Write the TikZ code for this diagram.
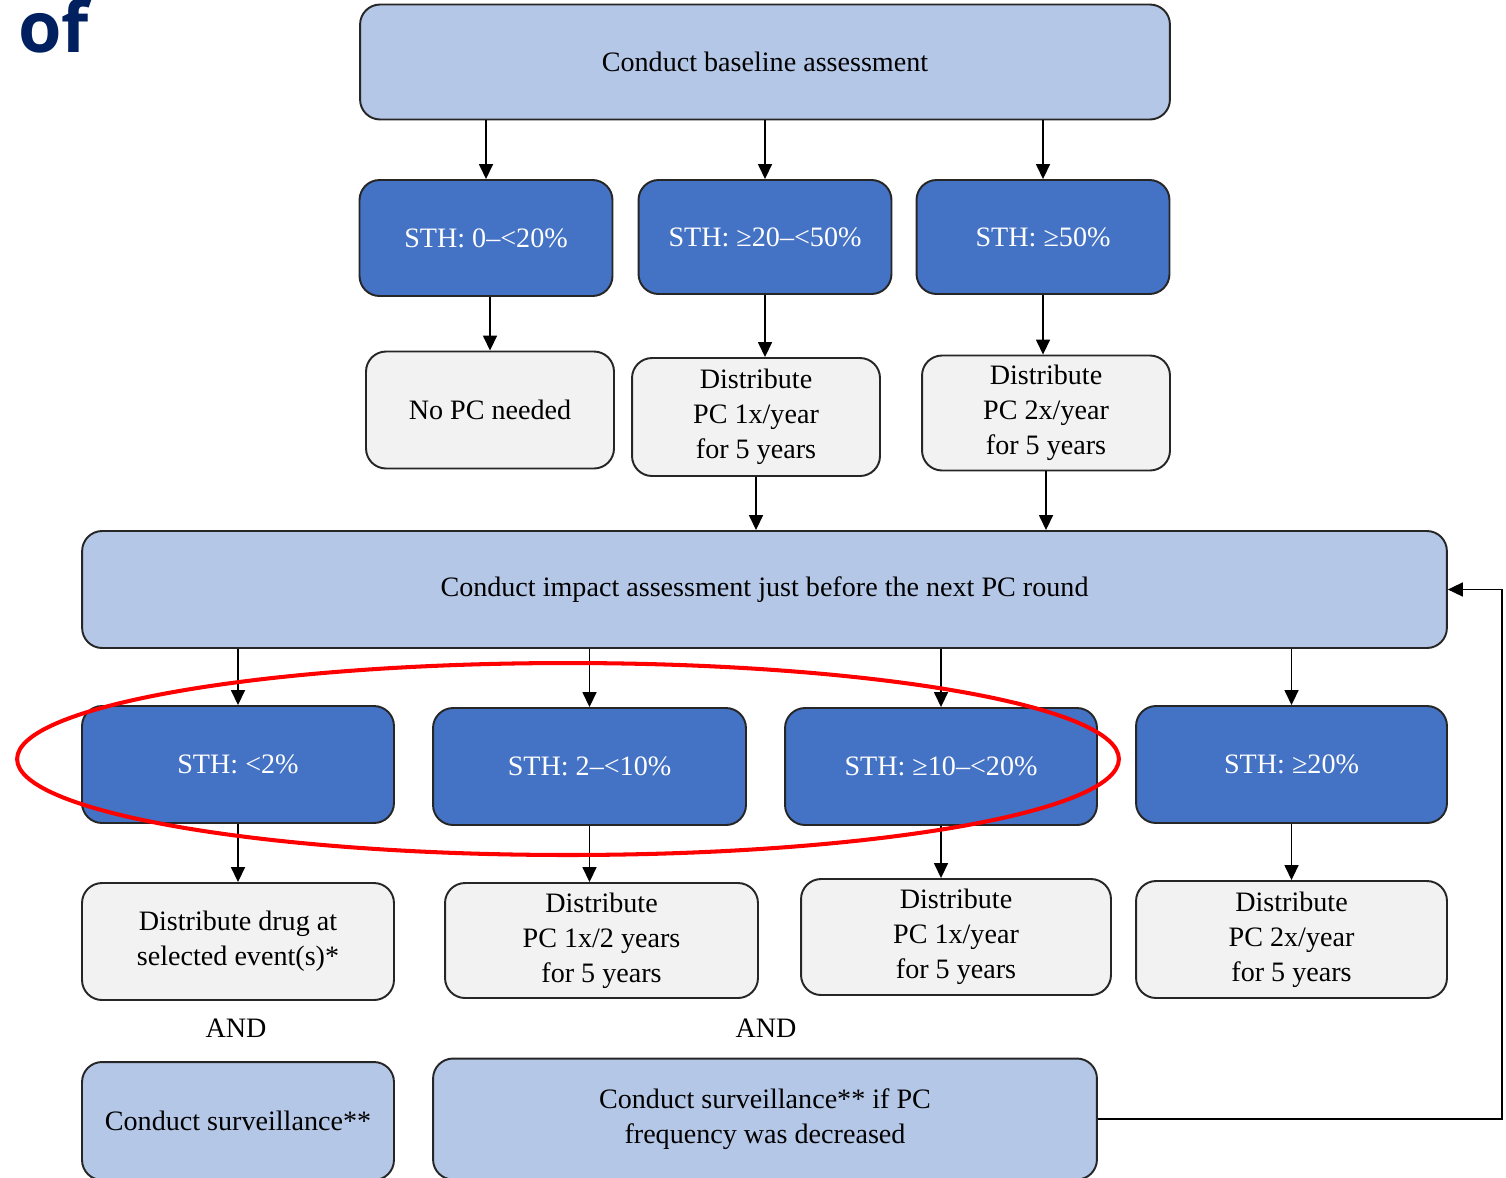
\documentclass[tikz,border=0pt]{standalone}
\usepackage{fontspec}
\setmainfont{Liberation Serif}
\newfontfamily\ofont{Open Sans}
\usetikzlibrary{arrows.meta}
\definecolor{lb}{HTML}{B4C7E7}
\definecolor{db}{HTML}{4472C4}
\definecolor{gr}{HTML}{F2F2F2}
\definecolor{navy}{HTML}{002060}
\definecolor{edge}{HTML}{262626}
\tikzset{
  box/.style={draw=edge, line width=1.1pt, rounded corners=0.4cm, align=center,
    font=\fontsize{16}{19.8}\selectfont, inner sep=2pt},
  lbox/.style={box, fill=lb, text=black},
  dbox/.style={box, fill=db, text=white},
  gbox/.style={box, fill=gr, text=black},
  arr/.style={-{Triangle[length=0.3cm,width=0.28cm]}, line width=0.9pt, draw=black},
  andlbl/.style={font=\fontsize{16}{19.8}\selectfont, inner sep=0pt}
}
\begin{document}
\begin{tikzpicture}[x=0.02cm, y=-0.02cm]
\useasboundingbox (0,0) rectangle (1506,1177);
\begin{scope}
\clip (0,0) rectangle (1506,1177);
\node[anchor=base west, inner sep=0pt, text=navy, font=\ofont\bfseries\fontsize{40}{40}\selectfont] (of) at (18,52) {of};

% top
\node[lbox, minimum width=16.2cm, minimum height=2.3cm] (top) at (765,62) {Conduct baseline assessment};
% row 1
\node[dbox, minimum width=5.06cm, minimum height=2.32cm] (a1) at (486,238) {STH: 0--<20\%};
\node[dbox, minimum width=5.06cm, minimum height=2.28cm] (a2) at (765,237) {STH: ≥20--<50\%};
\node[dbox, minimum width=5.06cm, minimum height=2.28cm] (a3) at (1043,237) {STH: ≥50\%};
% row 2
\node[gbox, minimum width=4.96cm, minimum height=2.34cm] (b1) at (490,410) {No PC needed};
\node[gbox, minimum width=4.96cm, minimum height=2.36cm] (b2) at (756,417) {Distribute\\PC 1x/year\\for 5 years};
\node[gbox, minimum width=4.96cm, minimum height=2.30cm] (b3) at (1046,413) {Distribute\\PC 2x/year\\for 5 years};
% impact
\node[lbox, minimum width=27.3cm, minimum height=2.34cm] (imp) at (764.5,589.5) {Conduct impact assessment just before the next PC round};
% row 3
\node[dbox, minimum width=6.24cm, minimum height=2.34cm] (c1) at (238,764.5) {STH: <2\%};
\node[dbox, minimum width=6.26cm, minimum height=2.34cm] (c2) at (589.5,766.5) {STH: 2--<10\%};
\node[dbox, minimum width=6.24cm, minimum height=2.34cm] (c3) at (941,766.5) {STH: ≥10--<20\%};
\node[dbox, minimum width=6.22cm, minimum height=2.34cm] (c4) at (1291.5,764.5) {STH: ≥20\%};
% row 4
\node[gbox, minimum width=6.24cm, minimum height=2.34cm] (d1) at (238,941.5) {Distribute drug at\\selected event(s)*};
\node[gbox, minimum width=6.26cm, minimum height=2.30cm] (d2) at (601.5,940.5) {Distribute\\PC 1x/2 years\\for 5 years};
\node[gbox, minimum width=6.20cm, minimum height=2.32cm] (d3) at (956,937) {Distribute\\PC 1x/year\\for 5 years};
\node[gbox, minimum width=6.22cm, minimum height=2.34cm] (d4) at (1291.5,939.5) {Distribute\\PC 2x/year\\for 5 years};
% AND
\node[andlbl] (and1) at (236,1028) {AND};
\node[andlbl] (and2) at (766,1028) {AND};
% surveillance
\node[lbox, minimum width=6.24cm, minimum height=2.36cm] (s1) at (238,1121) {Conduct surveillance**};
\node[lbox, minimum width=13.28cm, minimum height=2.42cm] (s2) at (765,1119) {Conduct surveillance** if PC\\frequency was decreased};

% arrows
\draw[arr] (a1.north |- top.south) -- (a1.north);
\draw[arr] (a2.north |- top.south) -- (a2.north);
\draw[arr] (a3.north |- top.south) -- (a3.north);
\draw[arr] (b1.north |- a1.south) -- (b1.north);
\draw[arr] (a2.south) -- (a2.south |- b2.north);
\draw[arr] (a3.south) -- (a3.south |- b3.north);
\draw[arr] (b2.south) -- (b2.south |- imp.north);
\draw[arr] (b3.south) -- (b3.south |- imp.north);
\draw[arr] (c1.north |- imp.south) -- (c1.north);
\draw[arr] (c2.north |- imp.south) -- (c2.north);
\draw[arr] (c3.north |- imp.south) -- (c3.north);
\draw[arr] (c4.north |- imp.south) -- (c4.north);
\draw[arr] (c1.south) -- (c1.south |- d1.north);
\draw[arr] (c2.south) -- (c2.south |- d2.north);
\draw[arr] (c3.south) -- (c3.south |- d3.north);
\draw[arr] (c4.south) -- (c4.south |- d4.north);
\coordinate (fb) at (1502,589.5);
\draw[arr] (s2.east) -| (fb) -- (imp.east);

% red ellipse
\draw[red, line width=2.3pt] (568,759) ellipse [x radius=11.02cm, y radius=1.92cm];
\end{scope}
\end{tikzpicture}
\end{document}
